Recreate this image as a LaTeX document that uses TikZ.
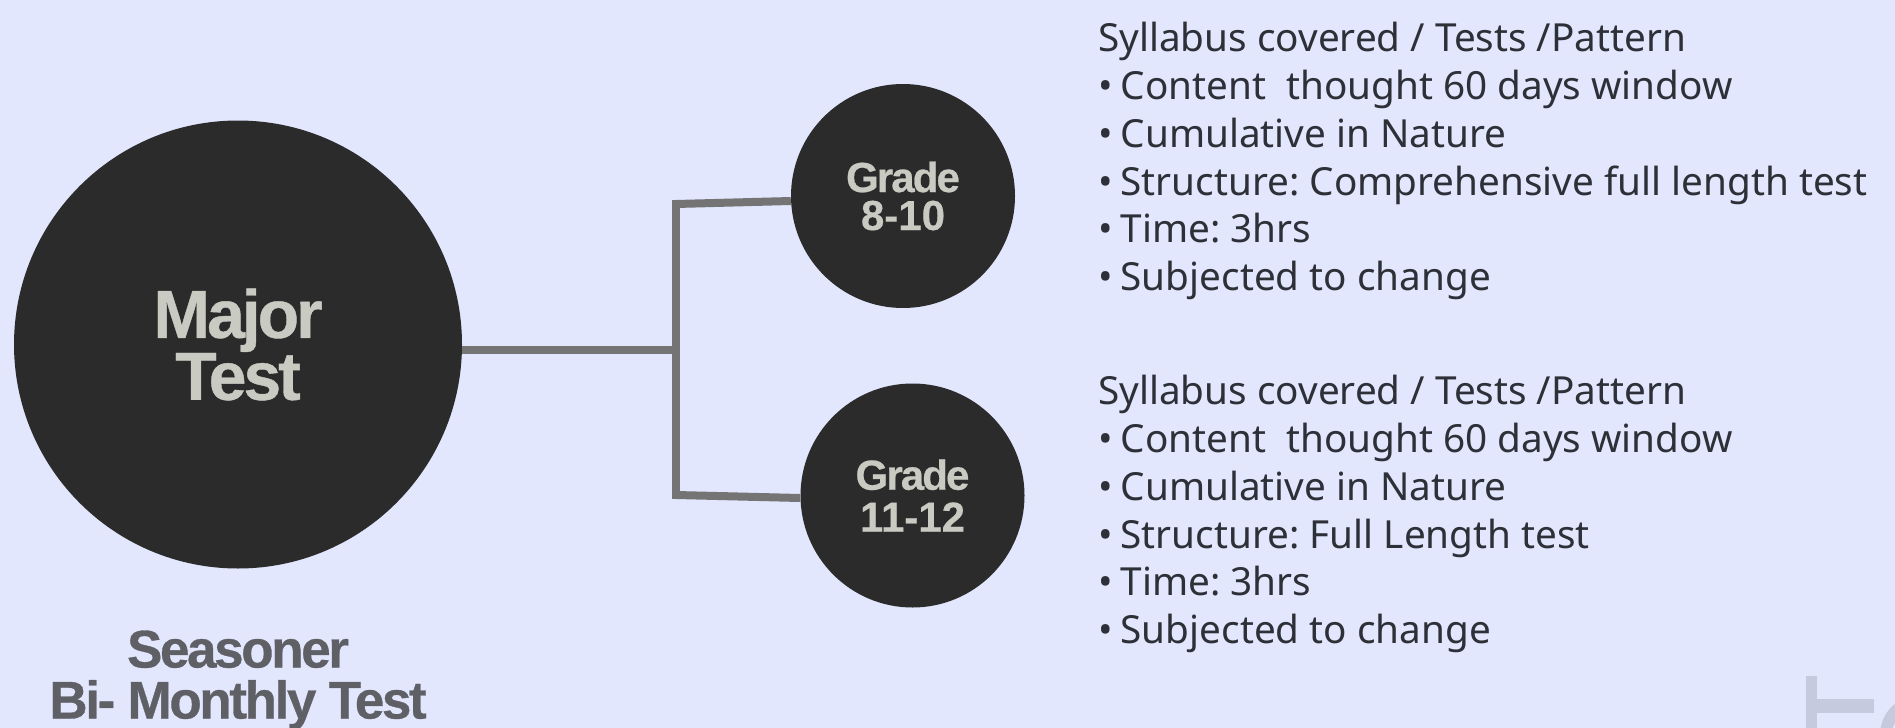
\documentclass[tikz,border=0pt]{standalone}
\usepackage{fontspec}
\setmainfont{Noto Sans}
\newfontfamily\headfont[LetterSpace=-4.5,BoldFeatures={FakeBold=0.6}]{Liberation Sans}
\newfontfamily\numfont[LetterSpace=0,BoldFeatures={FakeBold=0.4}]{Liberation Sans}
\usetikzlibrary{positioning}
\definecolor{paperBlue}{HTML}{E2E7FE}
\definecolor{discDark}{HTML}{2B2B2B}
\definecolor{discText}{HTML}{C9CAC2}
\definecolor{linkGrey}{HTML}{747474}
\definecolor{captionGrey}{HTML}{5F6066}
\definecolor{listInk}{HTML}{2E3038}
\definecolor{markFaint}{HTML}{C5CADF}
\tikzset{
  disc/.style={circle,fill=discDark,text=discText,inner sep=0pt,align=center},
  link/.style={draw=linkGrey,line width=8pt},
  syllabus/.style={anchor=north west,inner sep=0pt,align=left,text=listInk,
    font=\fontsize{38.7}{47.8}\selectfont\frenchspacing},
}
\newcommand{\headSize}[2]{\fontsize{#1}{#2}\selectfont\headfont\bfseries}
\newcommand{\dropText}[1]{\raisebox{-3pt}{#1}}
\newcommand{\listDot}{\textbullet\hspace{8pt}}

\begin{document}
\begin{tikzpicture}[x=1pt,y=-1pt]
\path[use as bounding box,clip] (0,0) rectangle (1895,728);
\fill[paperBlue] (0,0) rectangle (1895,728);
% Discs
\node[disc,minimum size=448pt,font=\headSize{68}{60}] (major) at (238,344.5) {Major\\Test};
\node[disc,minimum size=224pt,font=\headSize{42}{38}] (grade1) at (903,196) {Grade\\{\numfont 8-10}};
\node[disc,minimum size=224pt,font=\headSize{42}{42}] (grade2) at (912.5,495.5) {\dropText{Grade}\\\dropText{\numfont 11-12}};
% Connector points
\coordinate (trunk)    at (676,350);
\coordinate (trunkTop) at (676,204);
\coordinate (trunkBot) at (676,495);
% Connectors
\draw[link] (major.east |- trunk) -- (trunk);
\draw[link] ([yshift=-4pt]trunkBot) -- ([yshift=4pt]trunkTop);
\draw[link] (trunkTop) -- ([yshift=-5pt]grade1.west);
\draw[link] (trunkBot) -- ([yshift=-2.5pt]grade2.west);
% Caption
\node[text=captionGrey,align=center,font=\headSize{53}{51}] (caption) at (238,680) {Seasoner\\Bi- Monthly Test};
% Lists
\node[syllabus] (list1) at (1098,22) {Syllabus covered / Tests /Pattern\\
  \listDot Content\ \ thought 60 days window\\
  \listDot Cumulative in Nature\\
  \listDot Structure: Comprehensive full length test\\
  \listDot Time: 3hrs\\
  \listDot Subjected to change};
\node[syllabus] (list2) at (1098,375) {Syllabus covered / Tests /Pattern\\
  \listDot Content\ \ thought 60 days window\\
  \listDot Cumulative in Nature\\
  \listDot Structure: Full Length test\\
  \listDot Time: 3hrs\\
  \listDot Subjected to change};
% Corner mark
\fill[markFaint] (1806,676) rectangle (1817,728);
\fill[markFaint] (1806,699) rectangle (1874,713);
\draw[markFaint,line width=12pt] (1920,735) circle[radius=34];
\end{tikzpicture}
\end{document}
